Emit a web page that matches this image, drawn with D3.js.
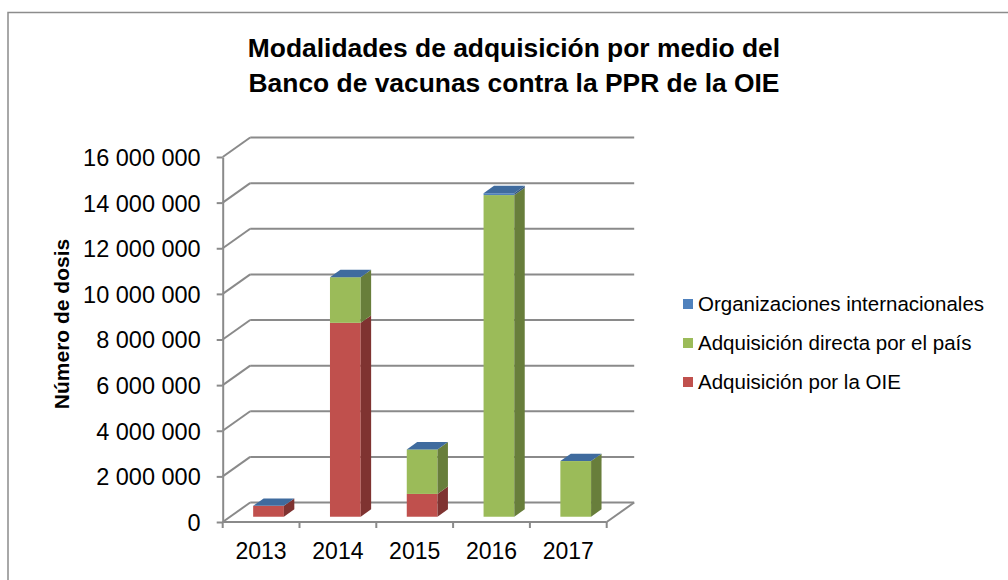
<!DOCTYPE html>
<html>
<head>
<meta charset="utf-8">
<script src="https://cdn.jsdelivr.net/npm/d3@7"></script>
<style>
  body { margin: 0; background: #fff; }
  text { font-family: "Liberation Sans", Arial, sans-serif; fill: #000; }
</style>
</head>
<body>
<div class="box"></div>
<script>
// data
const years = ['2013', '2014', '2015', '2016', '2017'];
const porOIE = [480000, 8500000, 1000000, 0, 0];
const directa = [0, 2000000, 1950000, 14100000, 2440000];
const organizaciones = [0, 0, 0, 80000, 0];
const seriesNames = ['Adquisición por la OIE', 'Adquisición directa por el país', 'Organizaciones internacionales'];
const yTicks = [0, 2000000, 4000000, 6000000, 8000000, 10000000, 12000000, 14000000, 16000000];

const colors = {
  front: ['#C0504D', '#9BBB59', '#4F81BD'],
  side:  ['#7F3331', '#687E3B', '#34567F'],
  top:   ['#C96A67', '#A9C46F', '#3F6B9E']
};

const svg = d3.select('.box')
              .append('svg')
              .attr('width', 1008)
              .attr('height', 580);

// chart frame
svg.append('rect')
   .attr('x', 8).attr('y', 12.5)
   .attr('width', 1100).attr('height', 700)
   .attr('fill', 'none')
   .attr('stroke', '#8c8c8c')
   .attr('stroke-width', 1.5);

// dimensions of the 3D box
const x0 = 222.7, plotW = 384;
const DX = 27.5, DY = -19.5;        // full depth offset
const f0 = 0.27, f1 = 0.65;         // bar depth slice
const gridCol = '#8a8a8a';

const xc = d3.scaleBand().domain(years).range([x0, x0 + plotW]);
const xb = d3.scaleBand().domain(years).range([x0, x0 + plotW])
             .paddingInner(0.6).paddingOuter(0.3);
const y = d3.scaleLinear().domain([0, 16000000]).range([522, 157]);

const graph = svg.append('g');

// back wall gridlines + left wall diagonals
yTicks.forEach(v => {
  graph.append('line')
       .attr('x1', x0 + DX).attr('x2', x0 + plotW + DX)
       .attr('y1', y(v) + DY).attr('y2', y(v) + DY)
       .attr('stroke', gridCol).attr('stroke-width', 2);
  graph.append('line')
       .attr('x1', x0).attr('x2', x0 + DX)
       .attr('y1', y(v)).attr('y2', y(v) + DY)
       .attr('stroke', gridCol).attr('stroke-width', 2);
});

// floor: front edge and right diagonal
graph.append('line')
     .attr('x1', x0).attr('x2', x0 + plotW)
     .attr('y1', y(0)).attr('y2', y(0))
     .attr('stroke', gridCol).attr('stroke-width', 2);
graph.append('line')
     .attr('x1', x0 + plotW).attr('x2', x0 + plotW + DX)
     .attr('y1', y(0)).attr('y2', y(0) + DY)
     .attr('stroke', gridCol).attr('stroke-width', 2);

// category ticks at band edges
const edges = years.map(d => xc(d)).concat([x0 + plotW]);
graph.selectAll('.ctick')
     .data(edges)
     .enter()
     .append('line')
     .attr('x1', d => d).attr('x2', d => d)
     .attr('y1', y(0)).attr('y2', y(0) + 6)
     .attr('stroke', gridCol).attr('stroke-width', 2);

// y axis
const fmt = d => d3.format(',')(d).replace(/,/g, ' ');
const axeY = d3.axisLeft(y)
               .tickValues(yTicks)
               .tickFormat(fmt)
               .tickSize(6)
               .tickSizeOuter(0)
               .tickPadding(16);
const groupeY = graph.append('g')
                     .attr('transform', `translate(${x0}, 0)`)
                     .call(axeY);
groupeY.select('.domain').attr('stroke', gridCol).attr('stroke-width', 2);
groupeY.selectAll('.tick line').attr('stroke', gridCol).attr('stroke-width', 2);
groupeY.selectAll('text')
       .attr('font-size', 23.5)
       .attr('font-family', '"Liberation Sans", Arial, sans-serif')
       .attr('fill', '#000')
       .attr('dy', '0.36em');

// x labels
graph.selectAll('.xlab')
     .data(years)
     .enter()
     .append('text')
     .attr('x', d => xc(d) + xc.bandwidth() / 2)
     .attr('y', 559)
     .attr('text-anchor', 'middle')
     .attr('font-size', 23)
     .text(d => d);

// stacked 3D bars
const table = years.map((yr, i) => ({year: yr, v: [porOIE[i], directa[i], organizaciones[i]]}));
const bdx = (f1 - f0) * DX, bdy = (f1 - f0) * DY;
const ox = f0 * DX, oy = f0 * DY;

table.forEach(d => {
  let base = 0;
  const bx = xb(d.year) + ox, w = xb.bandwidth();
  d.v.forEach((val, s) => {
    const yb = y(base) + oy, yt = y(base + val) + oy;
    base += val;
    const g = graph.append('g');
    if (val > 0) {
      g.append('rect')
       .attr('x', bx).attr('y', yt)
       .attr('width', w).attr('height', yb - yt)
       .attr('fill', colors.front[s]);
      g.append('path')
       .attr('d', `M${bx + w},${yb}L${bx + w + bdx},${yb + bdy}L${bx + w + bdx},${yt + bdy}L${bx + w},${yt}Z`)
       .attr('fill', colors.side[s]);
    }
    // top face of the highest series (drawn even for zero values, like Excel)
    if (s === d.v.length - 1) {
      g.append('path')
       .attr('d', `M${bx},${yt}L${bx + w},${yt}L${bx + w + bdx},${yt + bdy}L${bx + bdx},${yt + bdy}Z`)
       .attr('fill', colors.top[s]);
    }
  });
});

// title
const title = svg.append('text')
                 .attr('x', 514)
                 .attr('text-anchor', 'middle')
                 .attr('font-size', 26.4)
                 .attr('font-weight', 'bold');
title.append('tspan').attr('x', 514).attr('y', 57).text('Modalidades de adquisición por medio del');
title.append('tspan').attr('x', 514).attr('y', 92).text('Banco de vacunas contra la PPR de la OIE');

// y axis title
svg.append('text')
   .attr('transform', 'translate(69, 324) rotate(-90)')
   .attr('text-anchor', 'middle')
   .attr('font-size', 21)
   .attr('font-weight', 'bold')
   .text('Número de dosis');

// legend
const legendY = [382, 343, 304];
const legend = svg.append('g');
seriesNames.forEach((name, s) => {
  legend.append('rect')
        .attr('x', 683).attr('y', legendY[s] - 5)
        .attr('width', 10).attr('height', 10)
        .attr('fill', colors.front[s]);
  legend.append('text')
        .attr('x', 698).attr('y', legendY[s])
        .attr('dy', '0.36em')
        .attr('font-size', 20.5)
        .text(name);
});
</script>
</body>
</html>
